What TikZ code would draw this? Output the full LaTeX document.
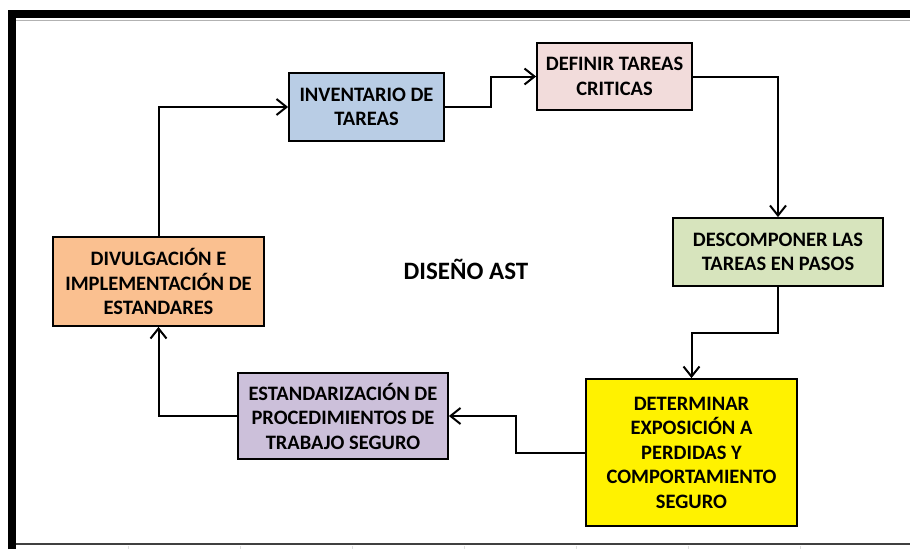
\documentclass[tikz,border=0pt]{standalone}
\usepackage{fontspec}
\setmainfont{Carlito}
\usepackage{tikz}
\usetikzlibrary{arrows.meta}
\definecolor{invblue}{HTML}{B9CDE5}
\definecolor{defpink}{HTML}{F2DCDB}
\definecolor{descgreen}{HTML}{D7E4BD}
\definecolor{estlilac}{HTML}{CCC0DA}
\definecolor{divorange}{HTML}{FAC090}

\begin{document}
\begin{tikzpicture}[x=1pt,y=-1pt,>={Straight Barb[length=10pt,width=16pt]},
  line width=2pt,
  main node/.style={draw,line width=1.8pt,align=center,inner sep=0pt,
    font=\fontsize{20.5}{24.5}\selectfont\bfseries}]

  \useasboundingbox (0,0) rectangle (910,549);

  % frame of the sheet
  \draw[line width=8pt] (12,549) -- (12,14) -- (910,14);
  \draw[gray!60,line width=1pt] (16,20) -- (910,20);
  \draw[black!75,line width=2pt] (16,544) -- (910,544);
  \foreach \x in {128,240,...,800}
    \draw[gray!25,line width=0.8pt] (\x,546) -- (\x,549);

  \node[main node,fill=invblue,minimum width=155,minimum height=68] (101) at (366.5,107)
    {INVENTARIO DE\\TAREAS};
  \node[main node,fill=defpink,minimum width=155,minimum height=67] (102) at (614.5,76.5)
    {DEFINIR TAREAS\\CRITICAS};
  \node[main node,fill=descgreen,minimum width=210,minimum height=68] (103) at (778,252)
    {DESCOMPONER LAS\\TAREAS EN PASOS};
  \node[main node,fill=yellow,minimum width=211,minimum height=147] (104) at (691.5,452.5)
    {DETERMINAR\\EXPOSICIÓN A\\PERDIDAS Y\\COMPORTAMIENTO\\SEGURO};
  \node[main node,fill=estlilac,minimum width=210,minimum height=86] (105) at (343,416)
    {ESTANDARIZACIÓN DE\\PROCEDIMIENTOS DE\\TRABAJO SEGURO};
  \node[main node,fill=divorange,minimum width=211,minimum height=89] (106) at (158.5,281.5)
    {DIVULGACIÓN E\\IMPLEMENTACIÓN DE\\ESTANDARES};
  \node[font=\fontsize{25}{30}\selectfont\bfseries] (100) at (466,269) {DISEÑO AST};

  \draw[->] (106.north) |- (101.west);
  \draw[->] (101.east) -- ++(46,0) |- (102.west);
  \draw[->] (102.east) -| (103.north);
  \draw[->] (103.south) -- ++(0,46) -| (104.north);
  \draw[->] (104.west) -- ++(-69,0) |- (105.east);
  \draw[->] (105.west) -| (106.south);

\end{tikzpicture}
\end{document}
